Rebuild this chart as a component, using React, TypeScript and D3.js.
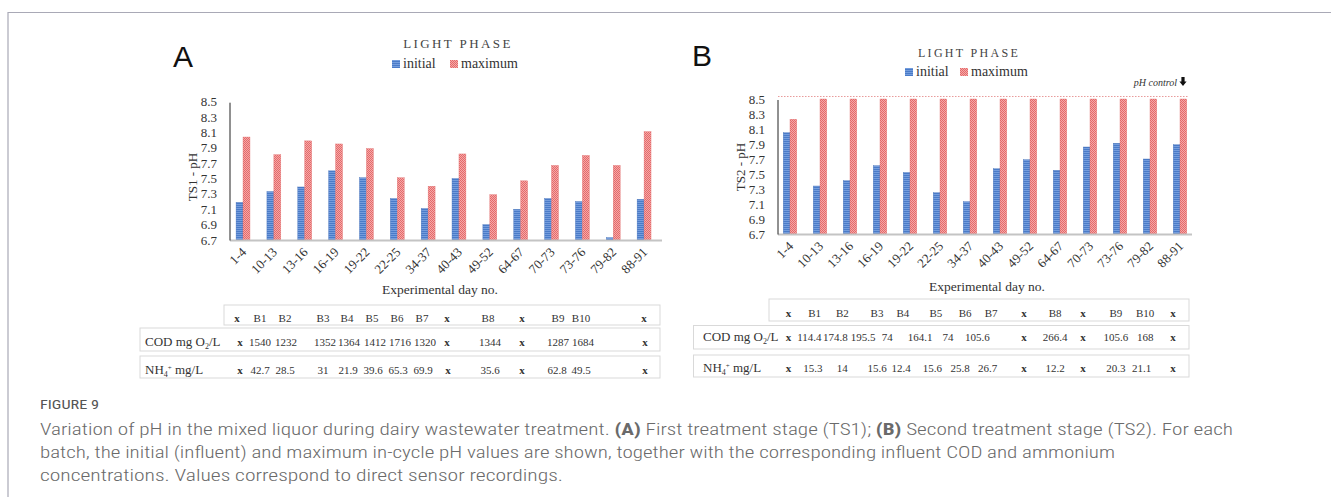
import React from "react";
import * as d3 from "d3";

// Experimental day windows (category axis)
const days = ["1-4", "10-13", "13-16", "16-19", "19-22", "22-25", "34-37", "40-43", "49-52", "64-67", "70-73", "73-76", "79-82", "88-91"];

// TS1 pH readings
const ts1Initial = [7.19, 7.33, 7.39, 7.6, 7.51, 7.24, 7.11, 7.5, 6.9, 7.1, 7.24, 7.2, 6.73, 7.23];
const ts1Maximum = [8.04, 7.81, 7.99, 7.95, 7.89, 7.51, 7.4, 7.82, 7.29, 7.47, 7.67, 7.8, 7.67, 8.11];

// TS2 pH readings (maximum capped by pH control)
const ts2Initial = [8.05, 7.34, 7.41, 7.61, 7.52, 7.25, 7.13, 7.57, 7.69, 7.55, 7.86, 7.91, 7.7, 7.89];
const ts2Maximum = [8.23, 8.5, 8.5, 8.5, 8.5, 8.5, 8.5, 8.5, 8.5, 8.5, 8.5, 8.5, 8.5, 8.5];
const pHControl = 8.5;

const phTicks = [6.7, 6.9, 7.1, 7.3, 7.5, 7.7, 7.9, 8.1, 8.3, 8.5];
const seriesNames = ["initial", "maximum"];

// Batch tables
const batches = ["x", "B1", "B2", "B3", "B4", "B5", "B6", "B7", "x", "B8", "x", "B9", "B10", "x"];
const ts1Cod = ["x", "1540", "1232", "1352", "1364", "1412", "1716", "1320", "x", "1344", "x", "1287", "1684", "x"];
const ts1Nh4 = ["x", "42.7", "28.5", "31", "21.9", "39.6", "65.3", "69.9", "x", "35.6", "x", "62.8", "49.5", "x"];
const ts2Cod = ["x", "114.4", "174.8", "195.5", "74", "164.1", "74", "105.6", "x", "266.4", "x", "105.6", "168", "x"];
const ts2Nh4 = ["x", "15.3", "14", "15.6", "12.4", "15.6", "25.8", "26.7", "x", "12.2", "x", "20.3", "21.1", "x"];

// Column centres of the text in each table row
const colsA = {
  head: [237, 260, 285, 323, 347, 372, 397, 422, 447, 488, 522, 558, 581, 644],
  cod: [240, 260, 286, 325, 349, 375, 400, 425, 447, 490, 522, 558, 583, 645],
  nh4: [240, 260, 285, 323, 348, 373, 398, 423, 448, 490, 522, 557, 581, 645],
};
const colsB = {
  head: [788.6, 814.6, 842.3, 877, 902.9, 935.8, 965.2, 991.1, 1024, 1055.2, 1082.9, 1115.8, 1145.2, 1172.9],
  cod: [788.6, 809.4, 835.4, 863, 887.3, 920.2, 947.9, 977.3, 1024, 1055.2, 1082.9, 1115.8, 1145.2, 1172.9],
  nh4: [788.6, 812.9, 842.3, 877, 901.1, 932.3, 960, 987.7, 1024, 1055.2, 1082.9, 1115.8, 1141.7, 1172.9],
};

const SERIF = "'Liberation Serif', 'Times New Roman', serif";
const SANS = "'Liberation Sans', Arial, sans-serif";
const TEXT = "#333";

type PanelProps = {
  letter: string;
  letterX: number;
  letterY: number;
  titleX: number;
  titleY: number;
  titleSize: number;
  titleSpacing: number;
  legendX: number[];
  legendY: number;
  axisX: number;
  top: number;
  base: number;
  range: [number, number];
  baseEnd: number;
  initial: number[];
  maximum: number[];
  yTitle: string;
  yTitleX: number;
  yTitleY: number;
  xTitleX: number;
  xTitleY: number;
  control?: boolean;
};

function PhPanel(p: PanelProps) {
  const x = d3.scaleBand<string>().domain(days).range(p.range).paddingInner(0.55).paddingOuter(0.275);
  const xs = d3.scaleBand<string>().domain(seriesNames).range([0, x.bandwidth()]);
  const y = d3.scaleLinear().domain([6.7, 8.5]).range([p.base, p.top]);
  const fills = ["url(#stripes)", "url(#dots)"];
  const strokes = ["#4470b8", "#e27272"];
  const series = [p.initial, p.maximum];

  return (
    <g>
      <text x={p.letterX} y={p.letterY} fontFamily={SANS} fontSize={30} fill="#111">
        {p.letter}
      </text>
      <text
        x={p.titleX}
        y={p.titleY}
        textAnchor="middle"
        fontFamily={SERIF}
        fontSize={p.titleSize}
        letterSpacing={p.titleSpacing}
        fill="#444"
      >
        LIGHT PHASE
      </text>
      {/* legend */}
      {seriesNames.map((name, i) => (
        <g key={name}>
          <rect x={p.legendX[i]} y={p.legendY - 8} width={8} height={8} fill={fills[i]} />
          <text x={p.legendX[i] + 11} y={p.legendY} fontFamily={SERIF} fontSize={14} fill={TEXT}>
            {name}
          </text>
        </g>
      ))}

      {/* y ticks */}
      {phTicks.map((t) => (
        <text
          key={t}
          x={p.axisX - 13}
          y={y(t)}
          dy="0.35em"
          textAnchor="end"
          fontFamily={SERIF}
          fontSize={13}
          fill={TEXT}
        >
          {t.toFixed(1)}
        </text>
      ))}

      {p.control && (
        <g>
          <line
            x1={p.axisX}
            x2={p.baseEnd - 4}
            y1={y(pHControl) - 2.5}
            y2={y(pHControl) - 2.5}
            stroke="#e59090"
            strokeWidth={0.9}
            strokeDasharray="1.5 1.5"
          />
          <text
            x={p.baseEnd - 15}
            y={y(pHControl) - 13}
            textAnchor="end"
            fontFamily={SERIF}
            fontStyle="italic"
            fontSize={10}
            fill="#333"
          >
            pH control
          </text>
          <path
            transform={`translate(${p.baseEnd - 9},${y(pHControl) - 17})`}
            d="M-1.6,-5 H1.6 V-0.5 H3.6 L0,4 L-3.6,-0.5 H-1.6 Z"
            fill="#111"
          />
        </g>
      )}

      {/* bars */}
      {days.map((d, i) => (
        <g key={d}>
          {series.map((vals, s) => (
            <rect
              key={s}
              x={(x(d) as number) + (xs(seriesNames[s]) as number)}
              y={y(vals[i])}
              width={xs.bandwidth()}
              height={y(6.7) - y(vals[i])}
              fill={fills[s]}
              stroke={strokes[s]}
              strokeWidth={0.4}
            />
          ))}
        </g>
      ))}

      {/* axes */}
      <line x1={p.axisX} x2={p.baseEnd} y1={p.base + 0.5} y2={p.base + 0.5} stroke="#c4c4c4" strokeWidth={2} />
      <line x1={p.axisX} x2={p.axisX} y1={p.top + 1} y2={p.base + 0.5} stroke="#222" strokeWidth={1} />

      {days.map((d) => {
        const cx = (x(d) as number) + x.bandwidth() / 2;
        return (
          <text
            key={d}
            transform={`translate(${cx + 4},${p.base + 13}) rotate(-45)`}
            textAnchor="end"
            fontFamily={SERIF}
            fontSize={13}
            fill={TEXT}
          >
            {d}
          </text>
        );
      })}

      <text
        transform={`translate(${p.yTitleX},${p.yTitleY}) rotate(-90)`}
        textAnchor="middle"
        dy="0.35em"
        fontFamily={SERIF}
        fontSize={13}
        fill={TEXT}
      >
        {p.yTitle}
      </text>
      <text x={p.xTitleX} y={p.xTitleY} textAnchor="middle" fontFamily={SERIF} fontSize={13.5} fill={TEXT}>
        Experimental day no.
      </text>
    </g>
  );
}

type TableProps = {
  headBox: [number, number, number, number];
  codBox: [number, number, number, number];
  nh4Box: [number, number, number, number];
  labelX: number;
  baselines: number[];
  cols: { head: number[]; cod: number[]; nh4: number[] };
  cod: string[];
  nh4: string[];
};

function Cell({ x, y, v }: { x: number; y: number; v: string }) {
  return (
    <text
      x={x}
      y={y}
      textAnchor="middle"
      fontFamily={SERIF}
      fontSize={11}
      fontWeight={v === "x" ? "bold" : "normal"}
      fill={TEXT}
    >
      {v}
    </text>
  );
}

function BatchTable(t: TableProps) {
  const boxes = [t.headBox, t.codBox, t.nh4Box];
  return (
    <g>
      {boxes.map((b, i) => (
        <rect key={i} x={b[0]} y={b[1]} width={b[2] - b[0]} height={b[3] - b[1]} fill="none" stroke="#d9d9d9" strokeWidth={1} />
      ))}
      {batches.map((v, i) => (
        <Cell key={"h" + i} x={t.cols.head[i]} y={t.baselines[0]} v={v} />
      ))}
      <text x={t.labelX} y={t.baselines[1]} fontFamily={SERIF} fontSize={13} fill={TEXT}>
        COD mg O
        <tspan dy={3} fontSize={8}>
          2
        </tspan>
        <tspan dy={-3}>/L</tspan>
      </text>
      {t.cod.map((v, i) => (
        <Cell key={"c" + i} x={t.cols.cod[i]} y={t.baselines[1]} v={v} />
      ))}
      <text x={t.labelX} y={t.baselines[2]} fontFamily={SERIF} fontSize={13} fill={TEXT}>
        NH
        <tspan dy={3} fontSize={8}>
          4
        </tspan>
        <tspan dy={-7} fontSize={7}>
          +
        </tspan>
        <tspan dy={4}> mg/L</tspan>
      </text>
      {t.nh4.map((v, i) => (
        <Cell key={"n" + i} x={t.cols.nh4[i]} y={t.baselines[2]} v={v} />
      ))}
    </g>
  );
}

const CAPTION_FONT = "'Liberation Sans Narrow', 'Roboto Condensed', Roboto, sans-serif";

export default function App() {
  return (
    <svg width={1331} height={497} style={{ position: "absolute", left: 0, top: 0, background: "#fff" }}>
      <defs>
        <pattern id="stripes" width={4} height={2} patternUnits="userSpaceOnUse">
          <rect width={4} height={2} fill="#4a7bc8" />
          <rect width={4} height={0.8} fill="#7ea6e3" />
        </pattern>
        <pattern id="dots" width={2} height={2} patternUnits="userSpaceOnUse">
          <rect width={2} height={2} fill="#f5a8a8" />
          <rect width={1} height={1} fill="#e46a6a" />
          <rect x={1} y={1} width={1} height={1} fill="#e46a6a" />
        </pattern>
      </defs>

      <path d="M8,497 V12.5 H1331" fill="none" stroke="#a9a9b6" strokeWidth={1.2} />

      <PhPanel
        letter="A"
        letterX={173}
        letterY={67}
        titleX={458}
        titleY={48}
        titleSize={13}
        titleSpacing={2.4}
        legendX={[392, 450]}
        legendY={68}
        axisX={230}
        top={101.7}
        base={240}
        range={[227.6, 659.5]}
        baseEnd={662}
        initial={ts1Initial}
        maximum={ts1Maximum}
        yTitle="TS1 - pH"
        yTitleX={192}
        yTitleY={177}
        xTitleX={440}
        xTitleY={294}
      />
      <PhPanel
        letter="B"
        letterX={692}
        letterY={66}
        titleX={969}
        titleY={57}
        titleSize={12}
        titleSpacing={2.3}
        legendX={[905, 960]}
        legendY={76}
        axisX={778}
        top={99}
        base={234}
        range={[775, 1195]}
        baseEnd={1192}
        initial={ts2Initial}
        maximum={ts2Maximum}
        yTitle="TS2 - pH"
        yTitleX={740}
        yTitleY={167}
        xTitleX={987}
        xTitleY={291}
        control
      />

      <BatchTable
        headBox={[224, 305, 660, 325]}
        codBox={[140, 328, 660, 351]}
        nh4Box={[140, 356, 660, 378]}
        labelX={145}
        baselines={[322, 346, 374]}
        cols={colsA}
        cod={ts1Cod}
        nh4={ts1Nh4}
      />
      <BatchTable
        headBox={[769, 299, 1189, 321]}
        codBox={[693.5, 325.5, 1189, 349]}
        nh4Box={[693.5, 355, 1189, 377]}
        labelX={703}
        baselines={[317, 341, 372]}
        cols={colsB}
        cod={ts2Cod}
        nh4={ts2Nh4}
      />

      <g fontFamily={CAPTION_FONT} fill="#6a6a6a" fontWeight={300}>
        <text x={40} y={409} fontSize={12.5} fontWeight={400} fill="#555" textLength={59} lengthAdjust="spacingAndGlyphs">
          FIGURE 9
        </text>
        <text x={40} y={435} fontSize={16} textLength={1193} lengthAdjust="spacingAndGlyphs">
          Variation of pH in the mixed liquor during dairy wastewater treatment. <tspan fontWeight="bold">(A)</tspan> First
          treatment stage (TS1); <tspan fontWeight="bold">(B)</tspan> Second treatment stage (TS2). For each
        </text>
        <text x={40} y={458} fontSize={16} textLength={1075} lengthAdjust="spacingAndGlyphs">
          batch, the initial (influent) and maximum in-cycle pH values are shown, together with the corresponding influent COD
          and ammonium
        </text>
        <text x={40} y={481} fontSize={16} textLength={523} lengthAdjust="spacingAndGlyphs">
          concentrations. Values correspond to direct sensor recordings.
        </text>
      </g>
    </svg>
  );
}
